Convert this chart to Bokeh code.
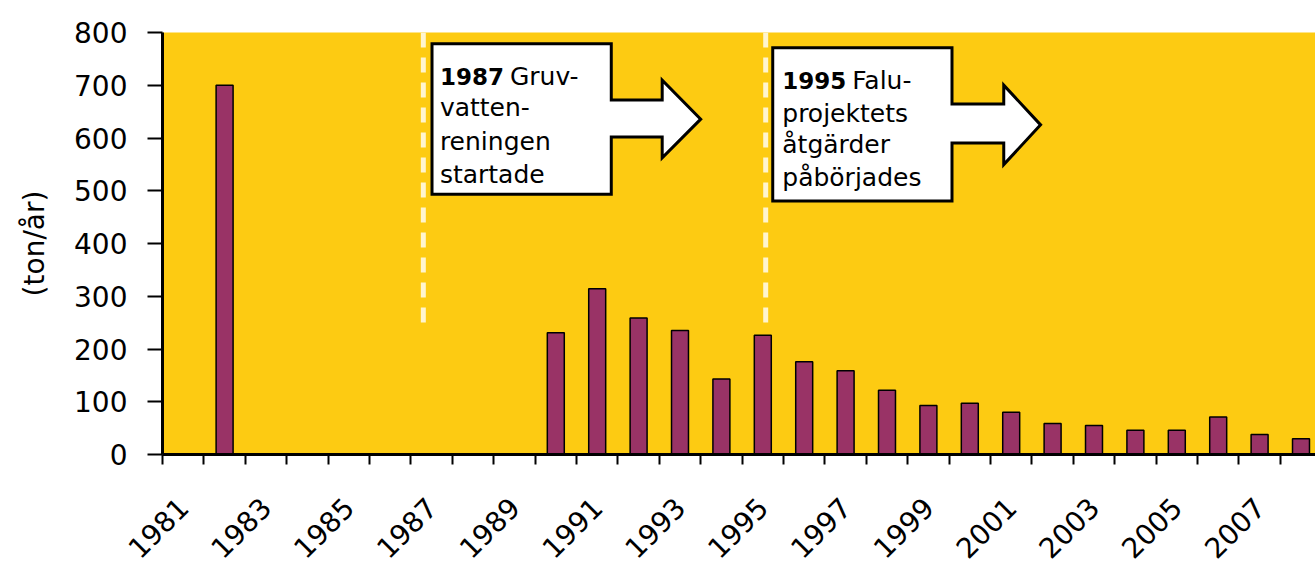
import math
from bokeh.plotting import figure
from bokeh.models import Range1d, FixedTicker, ColumnDataSource
from bokeh.embed import file_html
from bokeh.resources import INLINE
from bokeh.core.properties import value

# ---------------- data ----------------
first_year = 1981
last_year = 2008
bar_years = [1982, 1990, 1991, 1992, 1993, 1994, 1995, 1996, 1997, 1998,
             1999, 2000, 2001, 2002, 2003, 2004, 2005, 2006, 2007, 2008]
bar_values = [700, 231, 314, 259, 235, 143, 226, 176, 159, 122,
              93, 97, 80, 59, 55, 46, 46, 71, 38, 30]
label_years = list(range(1981, 2009, 2))
label_texts = [str(y) for y in label_years]
y_ticks = [0, 100, 200, 300, 400, 500, 600, 700, 800]
y_title = "(ton/år)"

# event markers (dashed lines) and callouts
event_line_x = [1986.8, 1995.07]
event_line_bottom = 239
box1_bold = "1987"
box1_lines = ["Gruv-", "vatten-", "reningen", "startade"]
box2_bold = "1995"
box2_lines = ["Falu-", "projektets", "åtgärder", "påbörjades"]

# ---------------- style ----------------
YELLOW = "#FDCB12"
BAR = "#993366"
FONT = "DejaVu Sans"

x_start = first_year - 0.5
x_end = x_start + (1315 - 162) / 41.4

p = figure(width=1315, height=570, output_backend="svg", toolbar_location=None,
           x_range=Range1d(x_start, x_end), y_range=Range1d(0, 800),
           min_border_left=162, min_border_top=32, min_border_bottom=113,
           min_border_right=0)
p.background_fill_color = YELLOW
p.border_fill_color = "white"
p.outline_line_color = None
p.xgrid.visible = False
p.ygrid.visible = False

# bars
src = ColumnDataSource(dict(x=bar_years, top=bar_values))
p.vbar(x="x", top="top", width=0.41, bottom=0, source=src,
       fill_color=BAR, line_color="black", line_width=1.5)

# dashed event lines
p.segment(x0=event_line_x, y0=[800, 800], x1=event_line_x,
          y1=[event_line_bottom] * 2, line_color="white", line_alpha=0.8,
          line_width=5, line_dash="15 10")


def callout(left, right, top, bottom, head_x, tip_x, shaft_top, shaft_bot,
            head_top, head_bot, tip_y):
    xs = [left, right, right, head_x, head_x, tip_x, head_x, head_x, right, right, left]
    ys = [top, top, shaft_top, shaft_top, head_top, tip_y, head_bot, shaft_bot,
          shaft_bot, bottom, bottom]
    return xs, ys


c1 = callout(1987.01, 1991.34, 778.7, 493.2, 1992.57, 1993.50, 672.0, 601.8, 709.6, 562.3, 635.7)
c2 = callout(1995.24, 1999.57, 771.2, 480.6, 2000.82, 2001.71, 664.5, 590.5, 700.2, 549.6, 624.9)
p.patches(xs=[c1[0], c2[0]], ys=[c1[1], c2[1]], fill_color="white",
          line_color="black", line_width=3, line_join="miter")

# callout texts
box1_x, box1_base = 1987.20, [717.2, 657.0, 593.0, 530.8]
box2_x, box2_base = 1995.47, [708.3, 647.0, 587.3, 524.6]
for bx, bases, bold, lines in [(box1_x, box1_base, box1_bold, box1_lines),
                               (box2_x, box2_base, box2_bold, box2_lines)]:
    p.text(x=[bx], y=[bases[0]], text=[bold], text_font=value(FONT),
           text_font_size="23px", text_font_style="bold", text_color="black",
           text_baseline="alphabetic", text_align="left")
    p.text(x=[bx], y=[bases[0]], text=[lines[0]], x_offset=70,
           text_font=value(FONT), text_font_size="25px", text_color="black",
           text_baseline="alphabetic", text_align="left")
    p.text(x=[bx] * 3, y=bases[1:], text=lines[1:], text_font=value(FONT),
           text_font_size="25px", text_color="black",
           text_baseline="alphabetic", text_align="left")

# x axis: minor ticks at category boundaries, rotated labels at category centres
xa = p.xaxis[0]
xa.ticker = FixedTicker(ticks=label_years,
                        minor_ticks=[first_year - 0.5 + i for i in range(last_year - first_year + 2)])
xa.major_label_overrides = {y: t for y, t in zip(label_years, label_texts)}
xa.axis_line_width = 3
xa.axis_line_color = "black"
xa.major_tick_line_color = None
xa.major_tick_in = 0
xa.major_tick_out = 0
xa.minor_tick_line_color = "black"
xa.minor_tick_line_width = 2
xa.minor_tick_in = 0
xa.minor_tick_out = 10
xa.major_label_orientation = math.pi / 4
xa.major_label_standoff = 38
xa.major_label_text_font = FONT
xa.major_label_text_font_size = "28px"
xa.major_label_text_color = "black"

# y axis
ya = p.yaxis[0]
ya.ticker = FixedTicker(ticks=y_ticks)
ya.axis_line_width = 3
ya.axis_line_color = "black"
ya.major_tick_line_color = "black"
ya.major_tick_line_width = 2
ya.major_tick_in = 0
ya.major_tick_out = 15
ya.minor_tick_line_color = None
ya.major_label_standoff = 20
ya.major_label_text_font = FONT
ya.major_label_text_font_size = "28px"
ya.major_label_text_color = "black"
ya.axis_label = y_title
ya.axis_label_text_font = FONT
ya.axis_label_text_font_size = "28px"
ya.axis_label_text_font_style = "normal"
ya.axis_label_text_color = "black"
ya.axis_label_standoff = 20

open("out.html", "w").write(file_html(p, INLINE))
